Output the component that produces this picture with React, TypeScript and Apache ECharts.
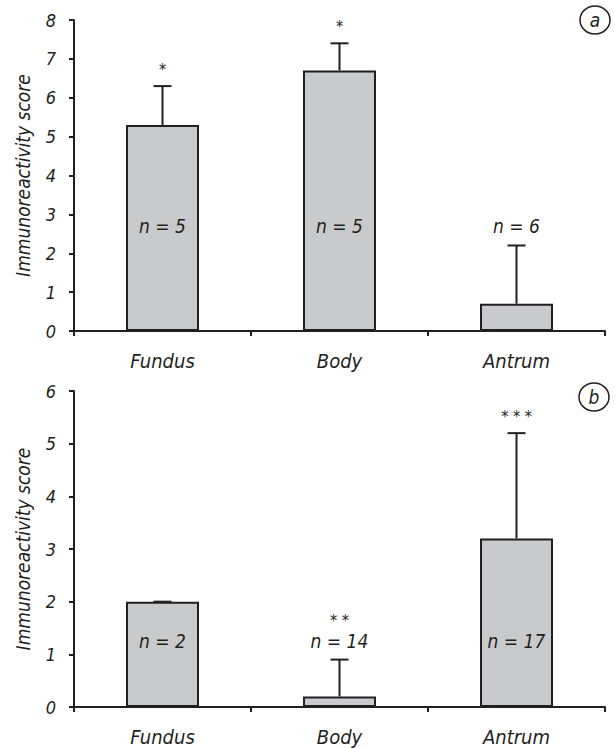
import React, { useEffect, useRef } from "react";
import * as echarts from "echarts";

const categories = ["Fundus", "Body", "Antrum"];

// Panel a
const panelAMeans = [5.3, 6.7, 0.7];
const panelAErrors = [1.0, 0.7, 1.5];
const panelANs = [5, 5, 6];
const panelAStars = ["*", "*", ""];
const panelATicks = [0, 1, 2, 3, 4, 5, 6, 7, 8];

// Panel b
const panelBMeans = [2.0, 0.2, 3.2];
const panelBErrors = [0, 0.7, 2.0];
const panelBNs = [2, 14, 17];
const panelBStars = ["", "* *", "* * *"];
const panelBTicks = [0, 1, 2, 3, 4, 5, 6];

const FONT = '"Liberation Sans Narrow", "DejaVu Sans Condensed", "Liberation Sans", sans-serif';
const INK = "#231f20";
const FILL = "#c9cacc";

function makeRenderer(means: number[], errs: number[], ns: number[], stars: string[], nLabelValue: number) {
  return (params: any, api: any) => {
    const i = params.dataIndex;
    const idx = api.value(0);
    const mean = api.value(1);
    const err = api.value(2);
    const base = api.coord([idx, mean]);
    const top = api.coord([idx, mean + err]);
    const nY = api.coord([idx, nLabelValue])[1];
    const children: any[] = [];
    if (err > 0) {
      children.push({
        type: "line",
        shape: { x1: base[0], y1: base[1], x2: top[0], y2: top[1] },
        style: { stroke: INK, lineWidth: 2 },
      });
    }
    children.push({
      type: "line",
      shape: { x1: top[0] - 9, y1: top[1], x2: top[0] + 9, y2: top[1] },
      style: { stroke: INK, lineWidth: 2 },
    });
    children.push({
      type: "text",
      style: {
        text: "n = " + ns[i],
        x: top[0],
        y: nY,
        align: "center",
        verticalAlign: "middle",
        fontFamily: FONT,
        fontStyle: "italic",
        fontSize: 19,
        fill: INK,
      },
    });
    if (stars[i]) {
      const sy = Math.min(top[1] - 8.5, nY - 13);
      children.push({
        type: "text",
        style: {
          text: stars[i],
          x: top[0],
          y: sy,
          align: "center",
          verticalAlign: "bottom",
          fontFamily: FONT,
          fontSize: 16,
          fill: INK,
        },
      });
    }
    return { type: "group", children };
  };
}

function xAxisFor(gridIndex: number) {
  return {
    gridIndex,
    type: "category",
    data: categories,
    axisLine: { show: true, lineStyle: { color: INK, width: 2 } },
    axisTick: { show: true, length: 5, lineStyle: { color: INK, width: 2 } },
    axisLabel: {
      color: INK,
      fontFamily: FONT,
      fontStyle: "italic",
      fontSize: 20,
      margin: 20,
    },
  };
}

function yAxisFor(gridIndex: number, ticks: number[]) {
  return {
    gridIndex,
    type: "value",
    min: ticks[0],
    max: ticks[ticks.length - 1],
    interval: 1,
    name: "Immunoreactivity score",
    nameLocation: "middle",
    nameGap: 42,
    nameTextStyle: {
      color: INK,
      fontFamily: FONT,
      fontStyle: "italic",
      fontSize: 19,
    },
    axisLine: { show: true, lineStyle: { color: INK, width: 2 } },
    axisTick: { show: true, length: 5, lineStyle: { color: INK, width: 2 } },
    splitLine: { show: false },
    axisLabel: {
      color: INK,
      fontFamily: FONT,
      fontStyle: "italic",
      fontSize: 18,
      margin: 18,
    },
  };
}

export default function App() {
  const ref = useRef<HTMLDivElement>(null);
  useEffect(() => {
    if (!ref.current) return;
    const chart = echarts.init(ref.current, null, { renderer: "svg" });
    const barStyle = { color: FILL, borderColor: INK, borderWidth: 2 };
    chart.setOption({
      animation: false,
      backgroundColor: "#ffffff",
      grid: [
        { left: 74, right: 10, top: 20, height: 311 },
        { left: 74, right: 10, top: 391, height: 316 },
      ],
      xAxis: [xAxisFor(0), xAxisFor(1)],
      yAxis: [yAxisFor(0, panelATicks), yAxisFor(1, panelBTicks)],
      series: [
        {
          type: "bar",
          xAxisIndex: 0,
          yAxisIndex: 0,
          data: panelAMeans,
          barWidth: 73,
          itemStyle: barStyle,
          z: 2,
        },
        {
          type: "custom",
          xAxisIndex: 0,
          yAxisIndex: 0,
          data: panelAMeans.map((m, i) => [i, m, panelAErrors[i]]),
          encode: { x: 0, y: 1 },
          renderItem: makeRenderer(panelAMeans, panelAErrors, panelANs, panelAStars, 2.69),
          z: 3,
        },
        {
          type: "bar",
          xAxisIndex: 1,
          yAxisIndex: 1,
          data: panelBMeans,
          barWidth: 73,
          itemStyle: barStyle,
          z: 2,
        },
        {
          type: "custom",
          xAxisIndex: 1,
          yAxisIndex: 1,
          data: panelBMeans.map((m, i) => [i, m, panelBErrors[i]]),
          encode: { x: 0, y: 1 },
          renderItem: makeRenderer(panelBMeans, panelBErrors, panelBNs, panelBStars, 1.25),
          z: 3,
        },
      ],
      graphic: [
        {
          type: "ellipse",
          shape: { cx: 595, cy: 20, rx: 15, ry: 14 },
          style: { fill: "none", stroke: INK, lineWidth: 1.5 },
        },
        {
          type: "text",
          x: 595,
          y: 20,
          style: {
            text: "a",
            align: "center",
            verticalAlign: "middle",
            fontFamily: FONT,
            fontStyle: "italic",
            fontSize: 19,
            fill: INK,
          },
        },
        {
          type: "ellipse",
          shape: { cx: 594, cy: 397, rx: 15, ry: 14 },
          style: { fill: "none", stroke: INK, lineWidth: 1.5 },
        },
        {
          type: "text",
          x: 594,
          y: 397,
          style: {
            text: "b",
            align: "center",
            verticalAlign: "middle",
            fontFamily: FONT,
            fontStyle: "italic",
            fontSize: 19,
            fill: INK,
          },
        },
      ],
    });
    return () => chart.dispose();
  }, []);
  return (
    <div
      ref={ref}
      style={{ position: "fixed", left: 0, top: 0, width: 615, height: 748, background: "#fff" }}
    />
  );
}
